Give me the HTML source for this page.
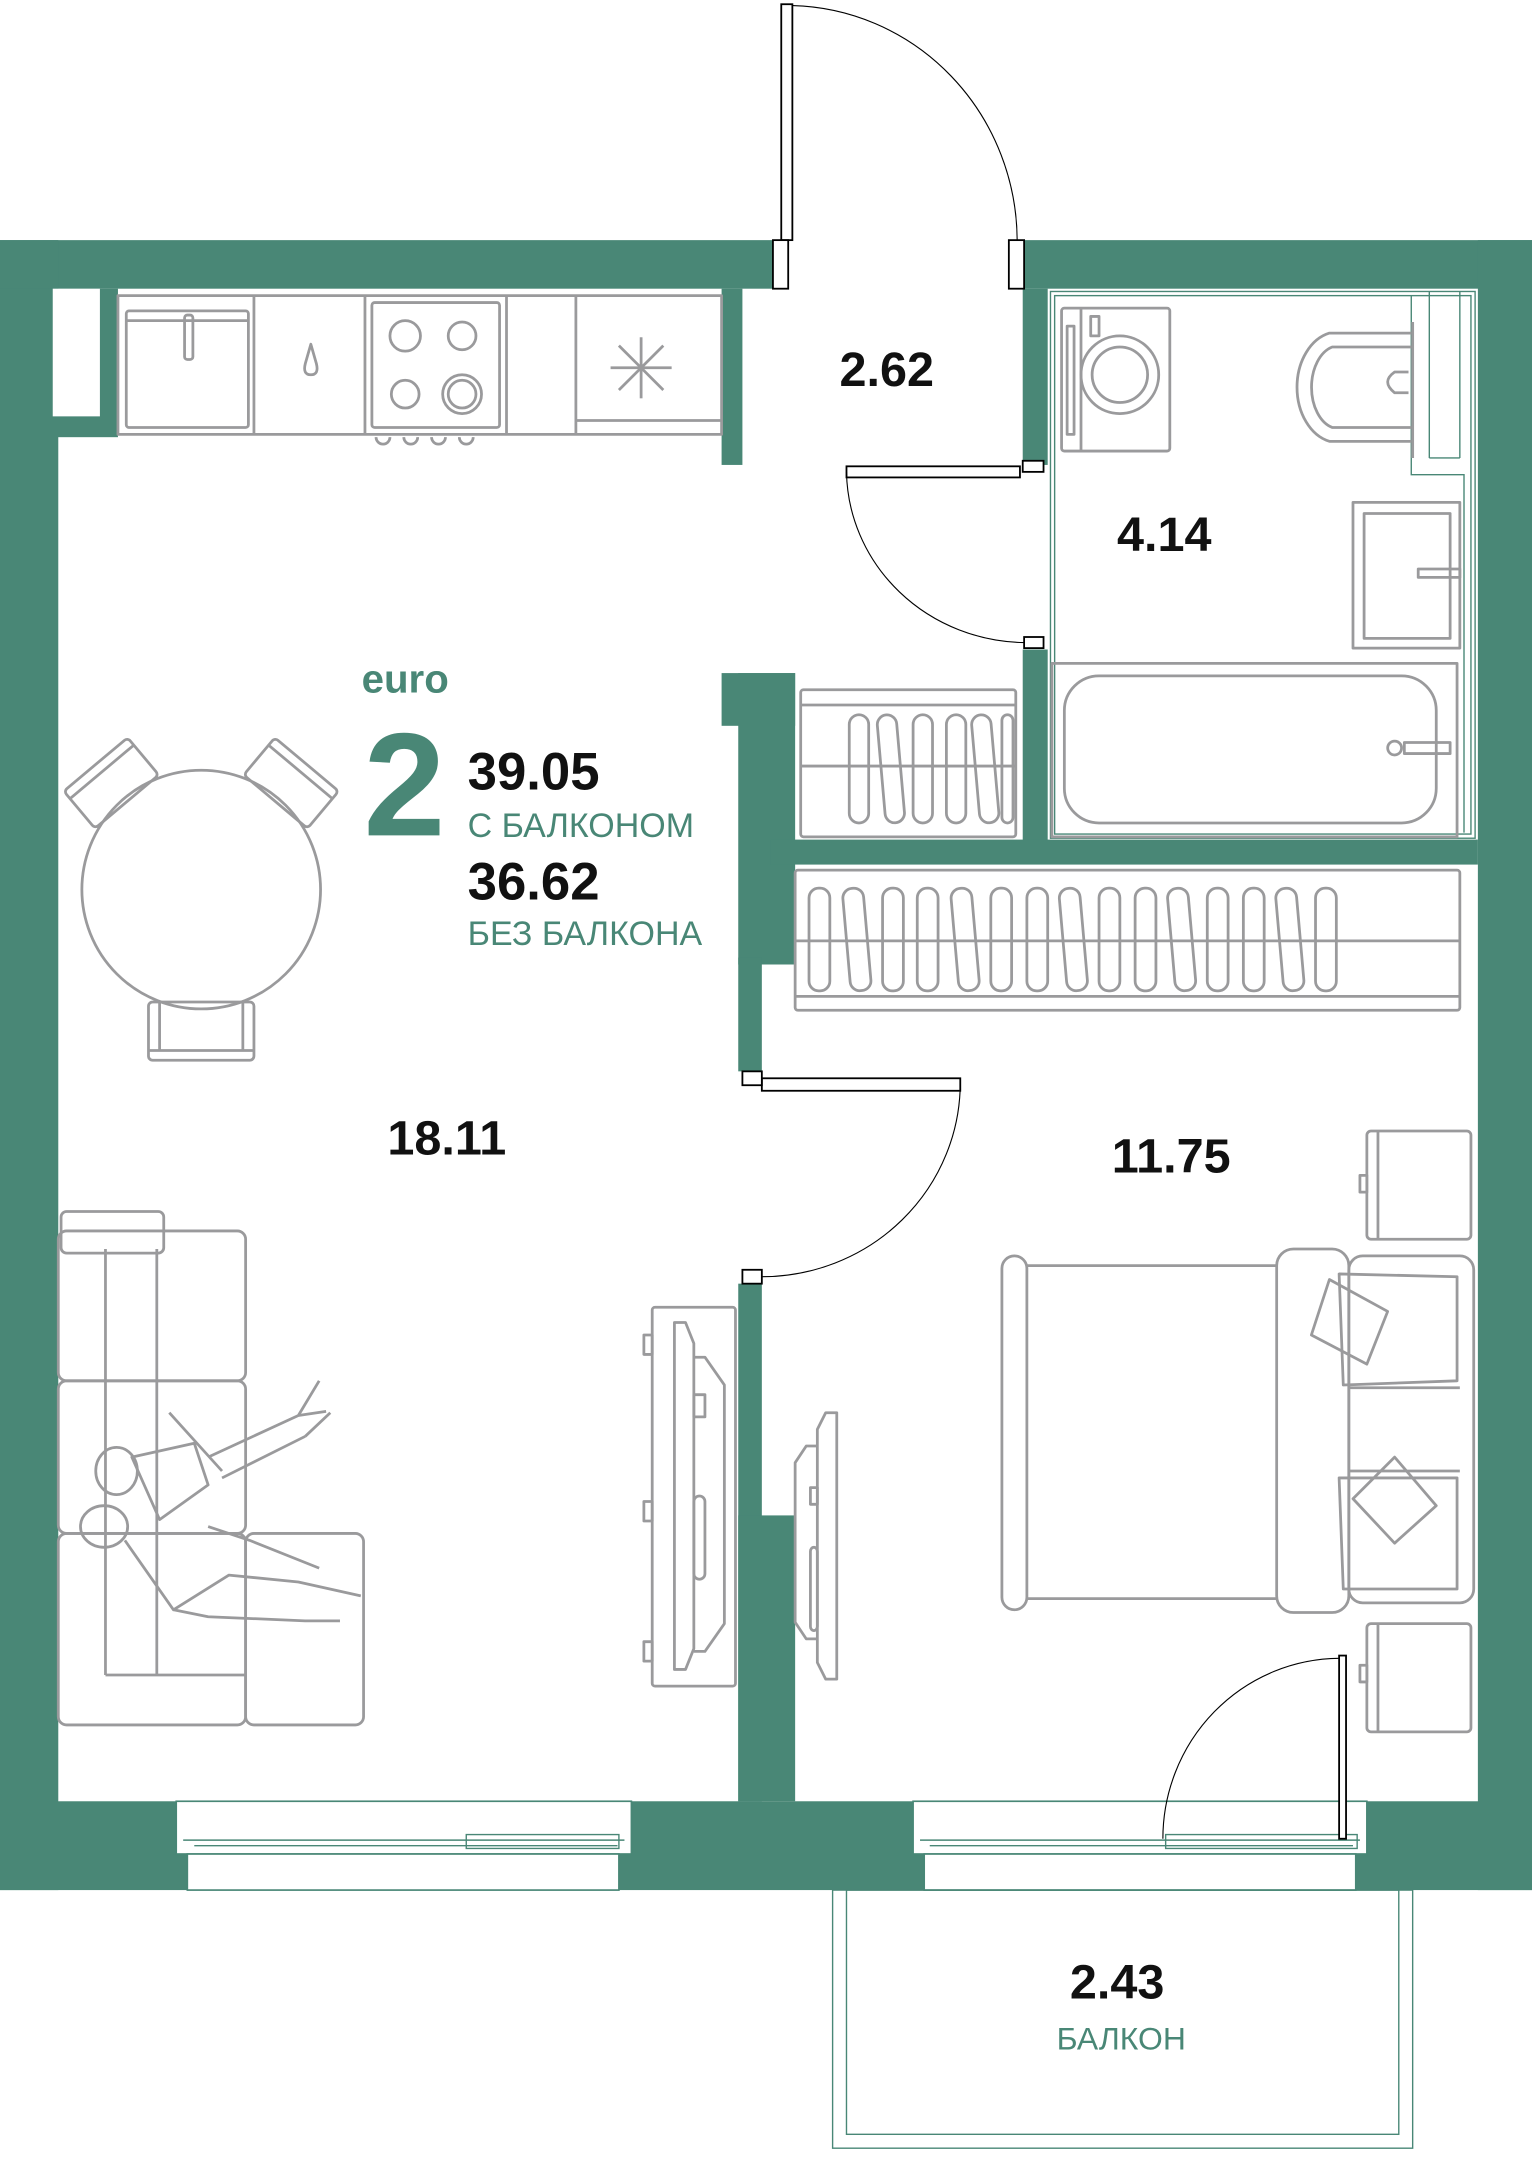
<!DOCTYPE html>
<html><head><meta charset="utf-8"><style>
html,body{margin:0;padding:0;background:#fff}
svg{display:block}
text{font-family:"Liberation Sans",sans-serif}
</style></head><body>
<svg width="1532" height="2176" viewBox="0 0 1104 1568" xmlns="http://www.w3.org/2000/svg">
<g fill="#498776">
<rect x="0" y="173" width="557" height="35"/>
<rect x="738" y="173" width="366" height="35"/>
<rect x="0" y="173" width="42" height="1189"/>
<rect x="1065" y="173" width="39" height="1189"/>
<rect x="0" y="1298" width="1104" height="64"/>
<rect x="0" y="208" width="85" height="107"/>
<rect x="520" y="208" width="15" height="127"/>
<rect x="737" y="208" width="18" height="127"/>
<rect x="737" y="468" width="18" height="140"/>
<rect x="532" y="485" width="41" height="210"/>
<rect x="520" y="485" width="53" height="38"/>
<rect x="532" y="690" width="17" height="82"/>
<rect x="555" y="605" width="510" height="18"/>
<rect x="532" y="925" width="17" height="373"/>
<rect x="532" y="1092" width="41" height="206"/>
</g>
<rect x="38" y="208" width="34" height="92" fill="#fff"/>
<g fill="#fff" stroke="#498776" stroke-width="1.2">
<rect x="127" y="1298" width="328" height="38"/>
<rect x="135" y="1336" width="311" height="26"/>
<rect x="658" y="1298" width="327" height="38"/>
<rect x="666" y="1336" width="311" height="26"/>
</g>
<g stroke="#498776" stroke-width="1" fill="none">
<line x1="132" y1="1326" x2="450" y2="1326"/><line x1="140" y1="1330" x2="445" y2="1330"/>
<rect x="336" y="1322" width="110" height="10"/>
<line x1="663" y1="1326" x2="980" y2="1326"/><line x1="670" y1="1330" x2="975" y2="1330"/>
<rect x="840" y="1322" width="138" height="10"/>
<rect x="600" y="1362" width="418" height="186"/>
<rect x="610" y="1362" width="398" height="176"/>
<rect x="757" y="210" width="306" height="394"/>
<rect x="760" y="213" width="300" height="388"/>
<polyline points="1017,213 1017,342 1055,342 1055,600"/>
<line x1="1030" y1="210" x2="1030" y2="330"/><line x1="1030" y1="330" x2="1052" y2="330"/>
<line x1="1052" y1="210" x2="1052" y2="330"/>
</g>
<g stroke="#000" fill="#fff" stroke-width="1.3">
<rect x="563" y="3" width="8" height="170"/>
<rect x="557" y="173" width="11" height="35"/>
<rect x="727" y="173" width="11" height="35"/>
<rect x="610" y="336" width="125" height="8"/>
<rect x="737" y="332" width="15" height="8"/>
<rect x="738" y="459" width="14" height="8"/>
<rect x="549" y="777" width="143" height="9"/>
<rect x="535" y="772" width="14" height="10"/>
<rect x="535" y="915" width="14" height="10"/>
<rect x="965" y="1193" width="5" height="132"/>
</g>
<g stroke="#000" fill="none" stroke-width="0.8">
<path d="M571 4 A166 170 0 0 1 733 173"/>
<path d="M610 340 A130 125 0 0 0 738 463"/>
<path d="M692 780 A143 140 0 0 1 549 920"/>
<path d="M965 1195 A128 130 0 0 0 838 1325"/>
</g>
<g stroke="#9a9a9c" stroke-width="2" fill="none" stroke-linejoin="round">
<rect x="85" y="213" width="435" height="100"/>
<line x1="183" y1="213" x2="183" y2="313"/><line x1="263" y1="213" x2="263" y2="313"/>
<line x1="365" y1="213" x2="365" y2="313"/><line x1="415" y1="213" x2="415" y2="313"/>
<rect x="91" y="224" width="88" height="84" rx="2"/>
<line x1="91" y1="231" x2="179" y2="231"/>
<rect x="133" y="227" width="6" height="32" rx="2"/>
<path d="M224 248 L228 262 Q230 270 224 270 Q218 270 220 262 Z"/>
<rect x="268" y="218" width="92" height="90" rx="2"/>
<circle cx="292" cy="242" r="11"/><circle cx="333" cy="242" r="10"/>
<circle cx="292" cy="284" r="10"/><circle cx="333" cy="284" r="14"/><circle cx="333" cy="284" r="10"/>
<path d="M271 315 a5 5 0 0 0 10 0 M291 315 a5 5 0 0 0 10 0 M311 315 a5 5 0 0 0 10 0 M331 315 a5 5 0 0 0 10 0"/>
<line x1="415" y1="303" x2="520" y2="303"/>
<g transform="translate(462,265)"><line x1="-22" y1="0" x2="22" y2="0"/><line x1="0" y1="-22" x2="0" y2="22"/><line x1="-16" y1="-16" x2="16" y2="16"/><line x1="-16" y1="16" x2="16" y2="-16"/></g>
<rect x="765" y="222" width="78" height="103" rx="2"/>
<line x1="779" y1="222" x2="779" y2="325"/>
<rect x="769" y="235" width="5" height="78"/>
<circle cx="807" cy="270" r="28"/><circle cx="807" cy="270" r="20"/>
<rect x="786" y="228" width="6" height="14"/>
<path d="M1017 240 H958 A30 40 0 0 0 958 318 H1017"/>
<path d="M1017 250 H960 A20 30 0 0 0 960 308 H1017"/>
<path d="M1015 268 H1005 Q995 275 1005 283 H1015"/>
<line x1="1018" y1="232" x2="1018" y2="330"/>
<rect x="975" y="362" width="77" height="105"/>
<rect x="983" y="370" width="62" height="90"/>
<rect x="1022" y="410" width="30" height="6"/>
<rect x="758" y="478" width="292" height="125"/>
<rect x="767" y="487" width="268" height="106" rx="25"/>
<circle cx="1005" cy="539" r="5"/><rect x="1012" y="535" width="33" height="8"/>
<rect x="577" y="497" width="155" height="106" rx="2"/>
<line x1="577" y1="508" x2="732" y2="508"/><line x1="577" y1="552" x2="732" y2="552"/>
<rect x="612" y="515" width="14" height="78" rx="7"/><rect x="635" y="515" width="14" height="78" rx="7" transform="rotate(-5 642 554)"/>
<rect x="658" y="515" width="14" height="78" rx="7"/><rect x="682" y="515" width="14" height="78" rx="7"/>
<rect x="703" y="515" width="14" height="78" rx="7" transform="rotate(-5 710 554)"/><rect x="722" y="515" width="8" height="78" rx="4"/>
<rect x="573" y="627" width="479" height="101" rx="2"/>
<line x1="573" y1="678" x2="1052" y2="678"/><line x1="573" y1="718" x2="1052" y2="718"/>
<rect x="583" y="640" width="15" height="74" rx="7"/>
<rect x="610" y="640" width="15" height="74" rx="7" transform="rotate(-5 617 677)"/>
<rect x="636" y="640" width="15" height="74" rx="7"/><rect x="661" y="640" width="15" height="74" rx="7"/>
<rect x="688" y="640" width="15" height="74" rx="7" transform="rotate(-5 695 677)"/>
<rect x="714" y="640" width="15" height="74" rx="7"/><rect x="740" y="640" width="15" height="74" rx="7"/>
<rect x="766" y="640" width="15" height="74" rx="7" transform="rotate(-5 773 677)"/>
<rect x="792" y="640" width="15" height="74" rx="7"/><rect x="818" y="640" width="15" height="74" rx="7"/>
<rect x="844" y="640" width="15" height="74" rx="7" transform="rotate(-5 851 677)"/>
<rect x="870" y="640" width="15" height="74" rx="7"/><rect x="896" y="640" width="15" height="74" rx="7"/>
<rect x="922" y="640" width="15" height="74" rx="7" transform="rotate(-5 929 677)"/>
<rect x="948" y="640" width="15" height="74" rx="7"/>
<circle cx="145" cy="641" r="86"/>
<g transform="rotate(-40 85 570)"><rect x="55" y="545" width="60" height="35" rx="3"/><line x1="55" y1="552" x2="115" y2="552"/></g>
<g transform="rotate(40 205 570)"><rect x="175" y="545" width="60" height="35" rx="3"/><line x1="175" y1="552" x2="235" y2="552"/></g>
<rect x="107" y="722" width="76" height="42" rx="3"/><line x1="107" y1="757" x2="183" y2="757"/><line x1="115" y1="722" x2="115" y2="757"/><line x1="175" y1="722" x2="175" y2="757"/>
<rect x="44" y="873" width="74" height="30" rx="4"/>
<rect x="42" y="887" width="135" height="108" rx="6"/>
<rect x="42" y="995" width="135" height="110" rx="6"/>
<rect x="42" y="1105" width="135" height="138" rx="6"/>
<rect x="177" y="1105" width="85" height="138" rx="6"/>
<line x1="76" y1="900" x2="76" y2="1207"/><line x1="113" y1="900" x2="113" y2="1207"/><line x1="76" y1="1207" x2="177" y2="1207"/>
<ellipse cx="84" cy="1060" rx="15" ry="17"/><ellipse cx="75" cy="1100" rx="17" ry="15"/>
<path d="M95 1050 L140 1040 L150 1070 L115 1095 Z M122 1018 L160 1060 M150 1050 L215 1020 L235 1017 M160 1065 L220 1035 M215 1020 L230 995 M220 1035 L238 1018"/>
<path d="M90 1110 L125 1160 L165 1135 L215 1140 L260 1150 M125 1160 L150 1165 L220 1168 L245 1168 M150 1100 L180 1110 L230 1130"/>
<rect x="470" y="942" width="60" height="273" rx="2"/>
<path d="M486 953 h8 l6 15 v220 l-6 15 h-8 z"/>
<path d="M500 978 h8 l14 20 v172 l-14 20 h-8"/>
<rect x="464" y="962" width="6" height="14"/><rect x="464" y="1082" width="6" height="14"/><rect x="464" y="1183" width="6" height="14"/>
<rect x="500" y="1005" width="8" height="16"/><rect x="500" y="1078" width="8" height="60" rx="4"/>
<path d="M595 1018 h8 v192 h-8 l-6 -12 v-168 z"/>
<path d="M589 1042 h-8 l-8 12 v115 l8 12 h8"/>
<rect x="584" y="1072" width="5" height="12"/><rect x="584" y="1115" width="5" height="60" rx="3"/>
<rect x="722" y="905" width="18" height="255" rx="9"/>
<line x1="740" y1="912" x2="920" y2="912"/><line x1="740" y1="1152" x2="920" y2="1152"/>
<rect x="920" y="900" width="52" height="262" rx="12"/>
<rect x="972" y="905" width="90" height="250" rx="10"/>
<line x1="972" y1="1000" x2="1052" y2="1000"/><line x1="972" y1="1060" x2="1052" y2="1060"/>
<path d="M965 918 L1050 920 L1050 995 L968 998 Z"/>
<path d="M958 922 L1000 945 L985 983 L945 962 Z"/>
<path d="M965 1065 L1050 1065 L1050 1145 L968 1145 Z"/>
<path d="M975 1080 L1005 1050 L1035 1085 L1005 1112 Z"/>
<rect x="985" y="815" width="75" height="78" rx="3"/><line x1="993" y1="815" x2="993" y2="893"/><rect x="980" y="847" width="5" height="12"/>
<rect x="985" y="1170" width="75" height="78" rx="3"/><line x1="993" y1="1170" x2="993" y2="1248"/><rect x="980" y="1200" width="5" height="12"/>
</g>
<g font-weight="bold" fill="#111" font-size="35" text-anchor="middle">
<text x="639" y="278">2.62</text>
<text x="839" y="397">4.14</text>
<text x="322" y="832">18.11</text>
<text x="844" y="845">11.75</text>
<text x="805" y="1440">2.43</text>
</g>
<text x="292" y="499" font-size="29" font-weight="bold" fill="#498776" text-anchor="middle">euro</text>
<text x="262" y="602" font-size="106" font-weight="bold" fill="#498776">2</text>
<text x="337" y="569" font-size="38" font-weight="bold" fill="#111">39.05</text>
<text x="337" y="603" font-size="24.5" fill="#498776">С БАЛКОНОМ</text>
<text x="337" y="648" font-size="38" font-weight="bold" fill="#111">36.62</text>
<text x="337" y="681" font-size="24.5" fill="#498776">БЕЗ БАЛКОНА</text>
<text x="808" y="1477" font-size="23" fill="#498776" text-anchor="middle">БАЛКОН</text>
</svg>
</body></html>
